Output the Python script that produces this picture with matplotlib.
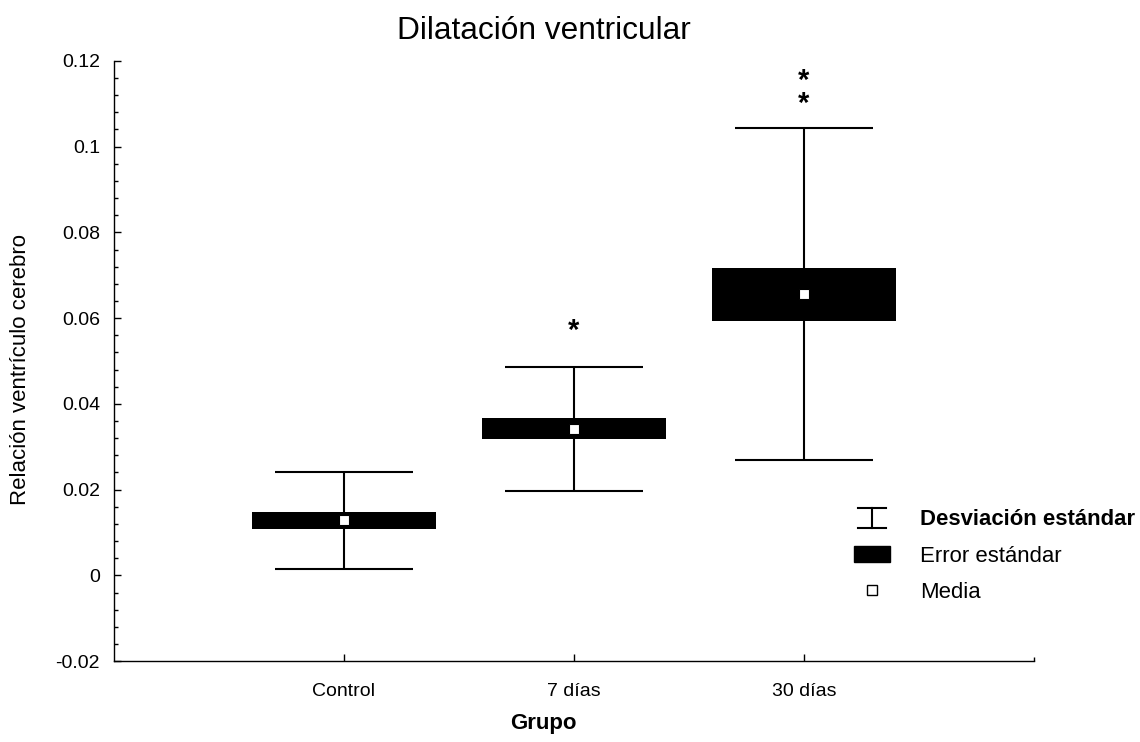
import numpy as np
import matplotlib
matplotlib.use("Agg")
import matplotlib.pyplot as plt
from matplotlib.lines import Line2D
from matplotlib.patches import Patch
from matplotlib.legend_handler import HandlerBase
from matplotlib.ticker import MultipleLocator, FixedLocator

plt.rcParams["font.family"] = ["Liberation Sans", "DejaVu Sans"]

# values
groups = ["Control", "7 días", "30 días"]
means = [0.0128, 0.0342, 0.0656]
sd = [0.0113, 0.0145, 0.0388]
se = [0.0019, 0.0024, 0.0062]
# significance stars: (group index, y position, number of stars stacked)
stars = [(1, 0.0570, 1), (2, 0.1127, 2)]


class SDHandler(HandlerBase):
    # draws the "I" symbol used for the standard deviation in the legend
    def create_artists(self, legend, orig_handle, xdescent, ydescent,
                       width, height, fontsize, trans):
        cx = width / 2 - xdescent
        half = width * 0.4
        y0 = -ydescent - height * 0.2
        y1 = -ydescent + height * 1.1
        kw = dict(color="black", lw=1.5, transform=trans)
        return [Line2D([cx - half, cx + half], [y0, y0], **kw),
                Line2D([cx - half, cx + half], [y1, y1], **kw),
                Line2D([cx, cx], [y0, y1], **kw)]


fig = plt.figure(figsize=(11.4, 7.42), dpi=100)
ax = fig.add_axes([0.1, 0.109, 0.807, 0.809])

x = np.arange(1, len(groups) + 1)
means = np.array(means)
sd = np.array(sd)
se = np.array(se)

# SD whiskers with caps
ax.vlines(x, means - sd, means + sd, color="black", lw=1.5, zorder=2)
ax.hlines(means - sd, x - 0.3, x + 0.3, color="black", lw=1.5, zorder=2)
ax.hlines(means + sd, x - 0.3, x + 0.3, color="black", lw=1.5, zorder=2)

# SE boxes
ax.bar(x, 2 * se, bottom=means - se, width=0.8, color="black", zorder=3)

# means
ax.plot(x, means, linestyle="none", marker="s", markersize=6.5,
        markerfacecolor="white", markeredgecolor="black", markeredgewidth=0.8,
        zorder=4)

for gi, yy, n in stars:
    ax.text(x[gi], yy, "\n".join(["*"] * n), ha="center", va="center",
            fontsize=21, fontweight="bold", linespacing=0.76)

ax.set_xlim(0, 4)
ax.set_ylim(-0.02, 0.12)
ax.set_xticks(x)
ax.set_xticklabels(groups)
ax.xaxis.set_minor_locator(FixedLocator([4]))
ax.yaxis.set_major_locator(MultipleLocator(0.02))
ax.yaxis.set_minor_locator(MultipleLocator(0.004))
ax.yaxis.set_major_formatter(plt.FuncFormatter(lambda v, p: "0" if abs(v) < 1e-9 else f"{v:g}"))
ax.tick_params(axis="both", which="major", direction="in", length=5,
               width=1, labelsize=14)
ax.tick_params(axis="y", which="major", pad=10)
ax.tick_params(axis="x", which="major", pad=16)
ax.tick_params(axis="both", which="minor", direction="in", length=3, width=1)

ax.spines["top"].set_visible(False)
ax.spines["right"].set_visible(False)
for s in ["left", "bottom"]:
    ax.spines[s].set_linewidth(1)

ax.set_title("Dilatación ventricular", fontsize=22.8, x=0.467, pad=16)
ax.set_ylabel("Relación ventrículo cerebro", fontsize=16)
ax.yaxis.set_label_coords(-0.09, 0.485)
ax.set_xlabel("Grupo", fontsize=16, fontweight="bold")
ax.xaxis.set_label_coords(0.467, -0.087)

sd_handle = object()
handles = [sd_handle,
           Patch(facecolor="black", edgecolor="black"),
           Line2D([], [], linestyle="none", marker="s", markersize=7,
                  markerfacecolor="white", markeredgecolor="black",
                  markeredgewidth=1)]
leg = ax.legend(handles, ["Desviación estándar", "Error estándar", "Media"],
                handler_map={sd_handle: SDHandler()},
                loc="upper left", bbox_to_anchor=(0.795, 0.268),
                frameon=False, fontsize=15.9, handlelength=1.6,
                handletextpad=1.4, labelspacing=0.7, borderaxespad=0)
leg.get_texts()[0].set_fontweight("bold")

fig.savefig("out.png", dpi=100)
